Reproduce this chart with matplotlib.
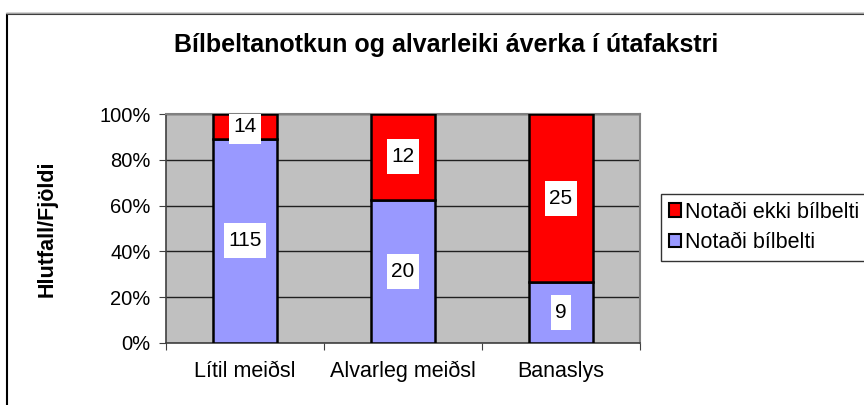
import matplotlib.pyplot as plt
from matplotlib.patches import Rectangle
import numpy as np

categories = ["Lítil meiðsl", "Alvarleg meiðsl", "Banaslys"]
med_belti = [115, 20, 9]
an_beltis = [14, 12, 25]
title = "Bílbeltanotkun og alvarleiki áverka í útafakstri"
ylabel = "Hlutfall/Fjöldi"
legend_labels = ["Notaði ekki bílbelti", "Notaði bílbelti"]

plt.rcParams['font.family'] = ['Liberation Sans', 'DejaVu Sans']

blue = np.array(med_belti, dtype=float)
red = np.array(an_beltis, dtype=float)
tot = blue + red
blue_pct = blue / tot * 100
red_pct = red / tot * 100

fig = plt.figure(figsize=(8.64, 4.05), dpi=100)
W, H = 864, 405

# chart frame
fig.patches.append(Rectangle((7 / W, -0.1), 1.2, 1 - 14 / H + 0.1, transform=fig.transFigure,
                             fill=False, edgecolor='black', linewidth=1.5))
fig.patches.append(Rectangle((6 / W, 1 - 12.5 / H), 1.2, 0, transform=fig.transFigure,
                             fill=False, edgecolor='#a0a0a0', linewidth=1))

ax = fig.add_axes([166 / W, 1 - 343 / H, (640 - 166) / W, (343 - 114) / H])
ax.set_facecolor('#c0c0c0')
x = np.arange(len(categories))
bw = 0.405
b1 = ax.bar(x, blue_pct, bw, color='#9999ff', edgecolor='black', linewidth=1.8, zorder=3)
b2 = ax.bar(x, red_pct, bw, bottom=blue_pct, color='#ff0000', edgecolor='black', linewidth=1.8, zorder=3)

labels = []
for i in range(len(categories)):
    for val, bot, h in [(med_belti[i], 0, blue_pct[i]), (an_beltis[i], blue_pct[i], red_pct[i])]:
        labels.append(ax.text(x[i], bot + h / 2, str(val), ha='center', va='center',
                              fontsize=15, zorder=6))

ax.set_xlim(-0.5, len(categories) - 0.5)
ax.set_ylim(0, 100)
ax.set_yticks(np.arange(0, 101, 20))
ax.set_yticklabels([f"{v}%" for v in range(0, 101, 20)], fontsize=14.5)
ax.yaxis.grid(True, color='#202020', linewidth=1, zorder=1)
ax.set_axisbelow(True)
ax.set_xticks(np.arange(-0.5, len(categories), 1))
ax.set_xticklabels([])
ax.set_xticks(x, minor=True)
ax.set_xticklabels(categories, minor=True, fontsize=15.5)
ax.tick_params(axis='x', which='minor', length=0, pad=13)
ax.tick_params(axis='x', which='major', length=5, color='#404040')
ax.tick_params(axis='y', length=5, color='#404040', pad=6)
for s in ['top', 'right']:
    ax.spines[s].set_color('#808080')
    ax.spines[s].set_linewidth(1.5)
for s in ['left', 'bottom']:
    ax.spines[s].set_color('#404040')
    ax.spines[s].set_linewidth(1.2)

fig.text(446 / W, 1 - 45 / H, title, ha='center', va='center', fontsize=18, fontweight='bold')
fig.text(47 / W, 1 - 229 / H, ylabel, ha='center', va='center', rotation=90, fontsize=15.5,
         fontweight='bold')

leg = fig.legend([b2, b1], legend_labels, loc='upper left', bbox_to_anchor=(661 / W, 1 - 194 / H),
                 fontsize=15.5, frameon=True, fancybox=False, edgecolor='black', handlelength=0.6,
                 handleheight=0.6, handletextpad=0.15, borderpad=0.35, labelspacing=0.45,
                 borderaxespad=0)
leg.get_frame().set_linewidth(1)
for h in leg.legend_handles:
    h.set_linewidth(1.5)

# white boxes behind the data labels (Excel style: narrow sides, tall top/bottom)
fig.canvas.draw()
r = fig.canvas.get_renderer()
for t in labels:
    bb = t.get_window_extent(r)
    ax.add_patch(Rectangle((bb.x0 - 4, bb.y0 - 8), bb.width + 8, bb.height + 16,
                           transform=None, facecolor='white', edgecolor='none', zorder=5))

fig.savefig('out.png', dpi=100)
